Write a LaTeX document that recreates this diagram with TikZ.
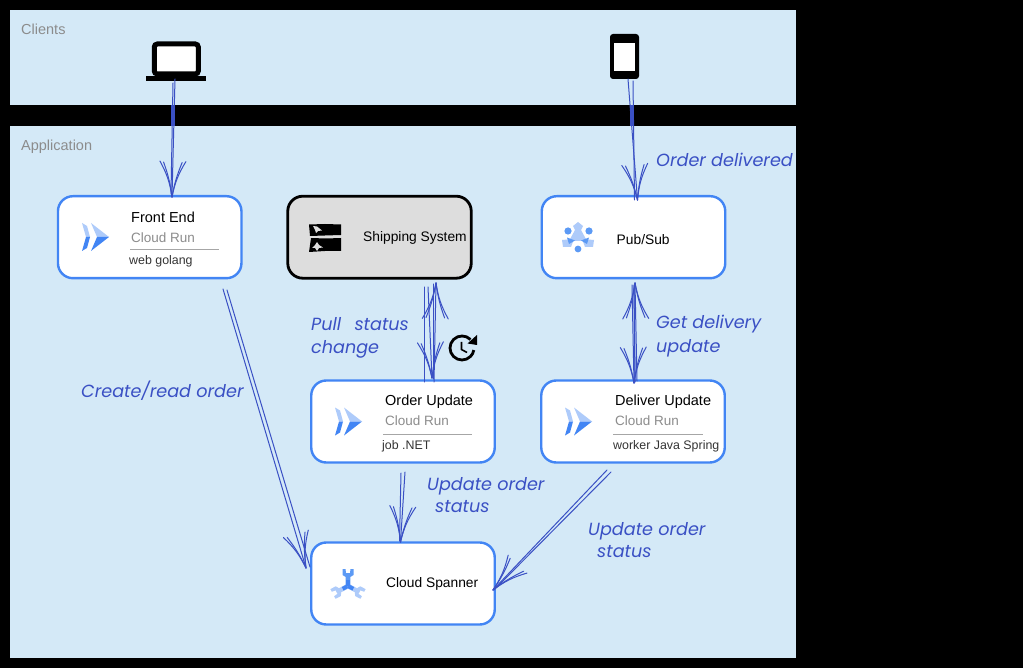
\documentclass[tikz,border=0pt]{standalone}
\usepackage{fontspec}
\usetikzlibrary{calc}
\setmainfont{Liberation Sans}
\newfontfamily\handfont{Poppins}
\definecolor{panelblue}{HTML}{D4E9F7}
\definecolor{boxblue}{HTML}{4285F4}
\definecolor{handblue}{HTML}{3A50C4}
\definecolor{iconlight}{HTML}{AECBFA}
\definecolor{iconmid}{HTML}{5C9AF5}
\definecolor{icondark}{HTML}{4285F4}
\definecolor{greytext}{HTML}{8C8C8C}
\definecolor{subtext}{HTML}{333333}
\definecolor{shipfill}{HTML}{DDDDDD}
\tikzset{
  panel/.style={fill=panelblue,draw=none},
  svcbox/.style={draw=boxblue,fill=white,line width=2.4pt,rounded corners=15pt,minimum width=183.5pt,minimum height=82pt,inner sep=0pt,outer sep=0pt},
  shipbox/.style={svcbox,draw=black,fill=shipfill,line width=2.8pt},
  title/.style={anchor=base west,inner sep=0pt,font=\fontsize{14.5}{16}\selectfont,text=black},
  plain/.style={title,font=\fontsize{13.8}{16}\selectfont},
  subtitle/.style={title,text=greytext,font=\fontsize{13.5}{16}\selectfont},
  note/.style={anchor=base west,inner sep=0pt,font=\fontsize{12.4}{15}\selectfont,text=subtext},
  sec/.style={title,text=greytext,font=\fontsize{14.5}{16}\selectfont},
  hand/.style={anchor=base west,inner sep=0pt,align=left,text=handblue,font=\handfont\itshape\fontsize{17.6}{24}\selectfont},
  handtight/.style={hand,font=\handfont\itshape\fontsize{17.6}{22}\selectfont},
  sk/.style={draw=handblue,line width=1pt,line cap=round,line join=round},
  rule/.style={draw=black!35,line width=1pt},
  pics/runicon/.style={code={
    \fill[iconlight] (-9,-14)--(-4,-11)--(-1,0)--(-5,0)--cycle;
    \fill[icondark] (-5,0)--(-1,0)--(-4,11)--(-9,14)--cycle;
    \fill[iconlight] (0,-14)--(18,0)--(6,0)--cycle;
    \fill[icondark] (6,0)--(18,0)--(0,14)--cycle;
  }},
}
\newcommand\skarrow[4]{%
  \draw[sk] (#1) -- (#2);
  \draw[sk] ($(#1)+(#3)$) -- ($(#2)+(#4)$);
  \draw[sk] ($(#2)!36pt!15:(#1)$) to[bend left=6] (#2);
  \draw[sk] ($(#2)!38pt!20:(#1)$) to[bend left=10] (#2);
  \draw[sk] ($(#2)!36pt!-15:(#1)$) to[bend right=6] (#2);
  \draw[sk] ($(#2)!38pt!-20:(#1)$) to[bend right=10] (#2);
}
\begin{document}
\begin{tikzpicture}[x=1pt,y=-1pt]
\useasboundingbox (0,0) rectangle (1023,668);
\fill[black] (0,0) rectangle (1023,668);
\path[panel] (10,10) rectangle (796,105);
\path[panel] (10,126) rectangle (796,658);
\node[sec] (clientslabel) at (21,35) {Clients};
\node[sec] (applabel) at (21,150.5) {Application};

% boxes
\node[svcbox] (frontend) at (149.7,237.2) {};
\node[shipbox] (shipping) at (379.5,237.2) {};
\node[svcbox] (pubsub) at (633.5,237.2) {};
\node[svcbox] (orderupd) at (403,421.5) {};
\node[svcbox] (deliverupd) at (633,421.5) {};
\node[svcbox] (spanner) at (403,583.5) {};

% laptop and phone
\node[draw=black,fill=white,line width=5pt,rounded corners=3pt,minimum width=44pt,minimum height=30pt,inner sep=0pt] (laptop) at (176.3,59) {};
\node[fill=black,minimum width=60pt,minimum height=4.5pt,inner sep=0pt] (laptopbase) at (176,78.7) {};
\node[fill=black,rounded corners=3pt,minimum width=29pt,minimum height=45pt,inner sep=0pt] (phone) at (624.5,56.5) {};
\node[fill=white,minimum width=21pt,minimum height=28pt,inner sep=0pt] (phonescreen) at (624.5,57) {};

% texts
\node[title] (t1) at (131,222.5) {Front End};
\node[subtitle] (t2) at (131,242.5) {Cloud Run};
\draw[rule] (130,249.5) -- (219,249.5);
\node[note] (t3) at (129,265) {web golang};
\node[plain] (t4) at (363,242) {Shipping System};
\node[plain] (t5) at (616.5,244.5) {Pub/Sub};
\node[title] (t6) at (385,405) {Order Update};
\node[subtitle] (t7) at (385,425) {Cloud Run};
\draw[rule] (383,434) -- (472,434);
\node[note] (t8) at (382,449) {job .NET};
\node[title] (t9) at (615,405) {Deliver Update};
\node[subtitle] (t10) at (615,425) {Cloud Run};
\draw[rule] (613,434) -- (702.5,434);
\node[note] (t11) at (613,449) {worker Java Spring};
\node[plain] (t12) at (386,587) {Cloud Spanner};

% icons
\pic at (91,237) {runicon};
\pic at (344,421.5) {runicon};
\pic at (574,421.5) {runicon};

% shipping icon
\fill[black] (309,224.5)--(325,224)--(341,224.5)--(341,235)--(325,235.5)--(310,236)--cycle;
\fill[black] (311,238)--(326,238.5)--(341,238)--(341,251)--(325,251)--(309,252)--cycle;
\fill[shipfill] (313,226)--(317,226.5)--(322,230.5)--(318,231)--(316,233)--(315,230)--cycle;
\fill[shipfill] (317,242)--(319,245)--(323,247.5)--(319,248)--(317,251)--(315,248)--(312,248)--(315,245)--cycle;

% pub/sub icon
\begin{scope}[shift={(578,238)}]
  \fill[iconlight] (0,-16)--(5,-12)--(3,-8)--(9,3)--(-9,3)--(-3,-8)--(-5,-12)--cycle;
  \fill[iconlight] (-4,1)--(-16,2)--(-15,9)--(-7,9)--cycle;
  \fill[iconlight] (4,1)--(16,2)--(15,9)--(7,9)--cycle;
  \fill[iconmid] (-11,-0.5)--(-3,2.5)--(-9,6)--cycle;
  \fill[iconmid] (11,-0.5)--(3,2.5)--(9,6)--cycle;
  \fill[iconmid] (-10,-7) circle (3.6pt);
  \fill[iconmid] (11,-7) circle (3.6pt);
  \fill[iconmid] (0,11) circle (3.4pt);
\end{scope}

% spanner icon
\begin{scope}[shift={(348,586)}]
  \foreach \a/\c in {118/iconlight,-118/iconlight,0/iconmid}{
    \begin{scope}[rotate=\a]
      \fill[\c] (-2.3,0)--(-2.3,-9)--(-5.5,-11)--(-5.5,-17)--(-2.5,-17)--(-2,-13)--(2,-13)--(2.5,-17)--(5.5,-17)--(5.5,-11)--(2.3,-9)--(2.3,0)--cycle;
      \fill[icondark] (-2,0)--(-2,-6)--(2,-6)--(2,0)--cycle;
    \end{scope}
  }
\end{scope}

% refresh clock
\draw[black,line width=2.8pt] (470.5,339.5) arc[start angle=45,end angle=350,radius=12pt];
\fill[black] (477,335)--(477,345)--(467.5,343.5)--cycle;
\draw[black,line width=1.6pt] (461.5,342)--(461.5,349.5)--(467,352.5);

% connector ends
\coordinate (laptopout) at (175,79);
\coordinate (fein) at (172,197);
\coordinate (phoneout) at (628,79);
\coordinate (psin) at (637.5,200);
\coordinate (psdown) at (632,285);
\coordinate (diup) at (634,383);
\coordinate (dout) at (637,381);
\coordinate (psup) at (635,283);
\coordinate (shdown) at (428,287);
\coordinate (ouin) at (432,378);
\coordinate (ouout) at (434,382);
\coordinate (shin) at (436,283);
\coordinate (feout) at (223,289);
\coordinate (spleft) at (306,568);
\coordinate (ouspan) at (405,472);
\coordinate (sptop) at (400.5,542);
\coordinate (duout) at (607,470);
\coordinate (spright) at (493,590);

% connectors
\skarrow{laptopout}{fein}{-2,4}{-1,-3}
\fill[handblue] (171,105) rectangle (175,126);
\skarrow{phoneout}{psin}{5,2}{-3,0}
\fill[handblue] (630,105) rectangle (634,126);
\skarrow{psdown}{diup}{2,0}{1,-1}
\skarrow{dout}{psup}{-2,0}{-1,2}
\skarrow{shdown}{ouin}{-4,0}{-8,4}
\skarrow{ouout}{shin}{-1,-3}{-3,1}
\skarrow{feout}{spleft}{4,1}{4,-1}
\skarrow{ouspan}{sptop}{-4,1}{-1,-1}
\skarrow{duout}{spright}{4,2}{1,0}

% handwriting
\node[hand] (h1) at (656,166.5) {Order delivered};
\node[hand] (h2) at (656,352.5) {Get delivery\\update};
\node[hand] (h3) at (311,354) {Pull\hspace*{8pt} status\\change};
\node[hand] (h4) at (81,397) {Create/read order};
\node[handtight] (h5) at (427,512.5) {Update order\\\hspace*{8pt}status};
\node[handtight] (h6) at (588,557.5) {Update order\\\hspace*{9pt}status};
\end{tikzpicture}
\end{document}
